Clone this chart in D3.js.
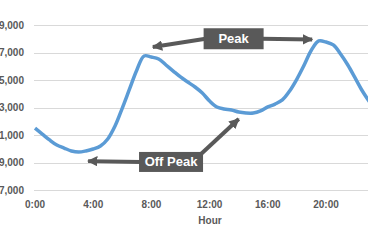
<!DOCTYPE html>
<html>
<head>
<meta charset="utf-8">
<script src="https://cdn.jsdelivr.net/npm/d3@7"></script>
<style>
  body { margin: 0; background: #fff; }
  text { font-family: "Liberation Sans", Arial, sans-serif; }
</style>
</head>
<body>
<div id="chart"></div>
<script>
var svgWidth = 368;
var svgHeight = 240;

// hourly load, read every half hour
var hours = [0, 0.5, 1, 1.5, 2, 2.5, 3, 3.5, 4, 4.5, 5, 5.5, 6, 6.5, 7, 7.5, 8, 8.5, 9, 9.5,
  10, 10.5, 11, 11.5, 12, 12.5, 13, 13.5, 14, 14.5, 15, 15.5, 16, 16.5, 17, 17.5, 18, 18.5,
  19, 19.5, 20, 20.5, 21, 21.5, 22, 22.5, 23, 23.5];
var load = [21500, 21070, 20640, 20270, 20050, 19840, 19760, 19840, 19980, 20200, 20710, 21650,
  22960, 24350, 25730, 26750, 26670, 26530, 26090, 25650, 25220, 24850, 24490, 24050,
  23470, 23040, 22890, 22820, 22670, 22600, 22600, 22750, 23040, 23250, 23550, 24200,
  25070, 26090, 27180, 27840, 27760, 27550, 26890, 26090, 25150, 24200, 23400, 22670];

var yTicks = [17000, 19000, 21000, 23000, 25000, 27000, 29000];
var xTicks = [0, 4, 8, 12, 16, 20];

// annotation boxes and arrow tips, in hour / load units
var peakBox = {label: "Peak", hour: 13.65, value: 28000};
var peakTips = [{hour: 8.1, value: 27400}, {hour: 19.05, value: 27950}];
var offBox = {label: "Off Peak", hour: 9.35, value: 19040};
var offTips = [{hour: 3.65, value: 19100}, {hour: 14.0, value: 22170}];

var margin = {left: 35, top: 25, bottom: 50};

var x = d3.scaleLinear().domain([0, 24]).range([margin.left, margin.left + 24 * 14.55]);
var y = d3.scaleLinear().domain([17000, 29000]).range([190, 25]);

var svg = d3.select("#chart").append("svg")
  .attr("width", svgWidth)
  .attr("height", svgHeight);

svg.append("defs").append("marker")
  .attr("id", "head")
  .attr("viewBox", "0 0 10 10")
  .attr("refX", 9).attr("refY", 5)
  .attr("markerWidth", 2.6).attr("markerHeight", 2.6)
  .attr("markerUnits", "strokeWidth")
  .attr("orient", "auto")
  .append("path")
  .attr("d", "M0,0 L10,5 L0,10 Z")
  .attr("fill", "#595959");

// gridlines
svg.append("g").selectAll("line")
  .data(yTicks)
  .enter().append("line")
  .attr("x1", margin.left - 1)
  .attr("x2", svgWidth)
  .attr("y1", d => Math.round(y(d)) + 0.5)
  .attr("y2", d => Math.round(y(d)) + 0.5)
  .attr("stroke", "#d9d9d9")
  .attr("stroke-width", 1);

// y labels (cut off on the left, as in the source)
svg.append("g").selectAll("text")
  .data(yTicks)
  .enter().append("text")
  .attr("x", 24)
  .attr("y", d => y(d) + 3.5)
  .attr("text-anchor", "end")
  .attr("font-size", "10px")
  .attr("font-weight", "bold")
  .attr("fill", "#595959")
  .text(d => d3.format(",")(d));

// x labels
svg.append("g").selectAll("text")
  .data(xTicks)
  .enter().append("text")
  .attr("x", d => x(d))
  .attr("y", 208)
  .attr("text-anchor", "middle")
  .attr("font-size", "10px")
  .attr("font-weight", "bold")
  .attr("fill", "#595959")
  .text(d => d + ":00");

svg.append("text")
  .attr("x", 210)
  .attr("y", 223.5)
  .attr("text-anchor", "middle")
  .attr("font-size", "10px")
  .attr("font-weight", "bold")
  .attr("fill", "#595959")
  .text("Hour");

// load line
var line = d3.line()
  .x((d, i) => x(hours[i]))
  .y(d => y(d))
  .curve(d3.curveCatmullRom);

svg.append("path")
  .datum(load)
  .attr("d", line)
  .attr("fill", "none")
  .attr("stroke", "#5b9bd5")
  .attr("stroke-width", 3.5)
  .attr("stroke-linejoin", "round");

// annotations
function annotate(box, tips, w, h) {
  var cx = x(box.hour), cy = y(box.value);
  svg.append("g").selectAll("line")
    .data(tips)
    .enter().append("line")
    .attr("x1", d => x(d.hour) < cx ? cx - w / 2 + 2 : cx + w / 2 - 2)
    .attr("y1", d => y(d.value) < cy - 5 ? cy - h / 2 + 2 : cy)
    .attr("x2", d => x(d.hour))
    .attr("y2", d => y(d.value))
    .attr("stroke", "#595959")
    .attr("stroke-width", 4)
    .attr("marker-end", "url(#head)");
  svg.append("rect")
    .attr("x", cx - w / 2)
    .attr("y", cy - h / 2)
    .attr("width", w)
    .attr("height", h)
    .attr("fill", "#595959");
  svg.append("text")
    .attr("x", cx)
    .attr("y", cy + 4.5)
    .attr("text-anchor", "middle")
    .attr("font-size", "13px")
    .attr("font-weight", "bold")
    .attr("fill", "#fff")
    .text(box.label);
}

annotate(peakBox, peakTips, 60, 21);
annotate(offBox, offTips, 64, 20);
</script>
</body>
</html>
